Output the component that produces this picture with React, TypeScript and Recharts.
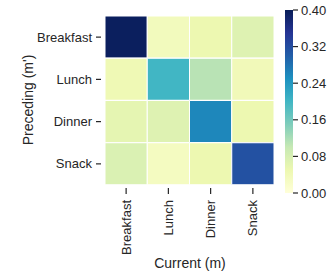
import { BarChart, Bar, XAxis, YAxis, Cell } from 'recharts';

const mealLabels = ['Breakfast', 'Lunch', 'Dinner', 'Snack'];

// rows = preceding meal (m'), columns = current meal (m)
const breakfastRow = [0.395, 0.035, 0.05, 0.07];
const lunchRow = [0.045, 0.2, 0.11, 0.04];
const dinnerRow = [0.06, 0.07, 0.26, 0.05];
const snackRow = [0.075, 0.03, 0.05, 0.315];

const colorbarTicks = [0, 0.08, 0.16, 0.24, 0.32, 0.4];
const vmax = 0.4;

const ylgnbu = ['#ffffd9', '#edf8b1', '#c7e9b4', '#7fcdbb', '#41b6c4', '#1d91c0', '#225ea8', '#253494', '#081d58'];

const matrix = [breakfastRow, lunchRow, dinnerRow, snackRow];
const rows = mealLabels.map((m) => ({ preceding: m, c0: 1, c1: 1, c2: 1, c3: 1 }));
const colorbarData = [{ name: 'cb', v: vmax }];

const textColor = '#262626';
const font = '"Liberation Sans", Arial, sans-serif';

function hexToRgb(h: string) {
  return [parseInt(h.slice(1, 3), 16), parseInt(h.slice(3, 5), 16), parseInt(h.slice(5, 7), 16)];
}

function heat(v: number) {
  const t = Math.max(0, Math.min(1, v / vmax)) * (ylgnbu.length - 1);
  const i = Math.min(Math.floor(t), ylgnbu.length - 2);
  const f = t - i;
  const a = hexToRgb(ylgnbu[i]);
  const b = hexToRgb(ylgnbu[i + 1]);
  const c = a.map((x, k) => Math.round(x + (b[k] - x) * f));
  return `rgb(${c[0]},${c[1]},${c[2]})`;
}

const XTick = (props: any) => {
  const { x, y, payload } = props;
  return (
    <g>
      <line x1={x} x2={x} y1={y + 3} y2={y + 9} stroke={textColor} strokeWidth={1.2} />
      <text
        x={x}
        y={y + 15}
        transform={`rotate(-90, ${x}, ${y + 15})`}
        textAnchor="end"
        dominantBaseline="central"
        fontSize={13}
        fill={textColor}
        fontFamily={font}
      >
        {mealLabels[Math.floor(payload.value)]}
      </text>
    </g>
  );
};

const YTick = (props: any) => {
  const { x, y, payload } = props;
  return (
    <g>
      <line x1={x - 9} x2={x - 4} y1={y} y2={y} stroke={textColor} strokeWidth={1.2} />
      <text x={x - 13} y={y} textAnchor="end" dominantBaseline="central" fontSize={13} fill={textColor} fontFamily={font}>
        {payload.value}
      </text>
    </g>
  );
};

export default function App() {
  return (
    <div style={{ position: 'fixed', left: 0, top: 0, width: 332, height: 277, background: '#fff', fontFamily: font }}>
      <svg width={0} height={0} style={{ position: 'absolute' }}>
        <defs>
          <linearGradient id="ylgnbu-grad" x1="0" y1="1" x2="0" y2="0">
            {ylgnbu.map((c, i) => (
              <stop key={c} offset={`${(i / (ylgnbu.length - 1)) * 100}%`} stopColor={c} />
            ))}
          </linearGradient>
        </defs>
      </svg>

      <div style={{ position: 'absolute', left: 0, top: 0 }}>
        <BarChart
          width={332}
          height={277}
          data={rows}
          layout="vertical"
          barCategoryGap={0}
          margin={{ top: 16, right: 58, left: 0, bottom: 0 }}
        >
          <XAxis
            type="number"
            domain={[0, 4]}
            ticks={[0.5, 1.5, 2.5, 3.5]}
            height={92}
            axisLine={false}
            tickLine={false}
            tickSize={0}
            tickMargin={0}
            tick={<XTick />}
            interval={0}
            label={(p: any) => (
              <text x={190} y={268} textAnchor="middle" fontSize={14} fill={textColor} fontFamily={font}>
                Current (m)
              </text>
            )}
          />
          <YAxis
            type="category"
            dataKey="preceding"
            width={105}
            axisLine={false}
            tickLine={false}
            tickSize={0}
            tickMargin={0}
            tick={<YTick />}
            interval={0}
            label={(p: any) => (
              <text
                x={28}
                y={100}
                transform="rotate(-90, 28, 100)"
                textAnchor="middle"
                dominantBaseline="central"
                fontSize={14}
                fill={textColor}
                fontFamily={font}
              >
                Preceding (m')
              </text>
            )}
          />
          {mealLabels.map((_, j) => (
            <Bar key={j} dataKey={`c${j}`} stackId="grid" isAnimationActive={false} stroke="#ffffff" strokeWidth={1}>
              {matrix.map((row, i) => (
                <Cell key={i} fill={heat(row[j])} />
              ))}
            </Bar>
          ))}
        </BarChart>
      </div>

      <div style={{ position: 'absolute', left: 285, top: 0 }}>
        <BarChart
          width={47}
          height={277}
          data={colorbarData}
          barCategoryGap={0}
          margin={{ top: 10, right: 0, bottom: 84, left: 0 }}
        >
          <XAxis dataKey="name" hide />
          <YAxis
            orientation="right"
            width={39}
            domain={[0, vmax]}
            ticks={colorbarTicks}
            axisLine={false}
            tickLine={{ stroke: textColor, strokeWidth: 1.2 }}
            tickSize={5}
            tickMargin={3}
            tickFormatter={(v: number) => v.toFixed(2)}
            tick={{ fontSize: 13, fill: textColor, fontFamily: font }}
          />
          <Bar dataKey="v" fill="url(#ylgnbu-grad)" isAnimationActive={false} />
        </BarChart>
      </div>
    </div>
  );
}
